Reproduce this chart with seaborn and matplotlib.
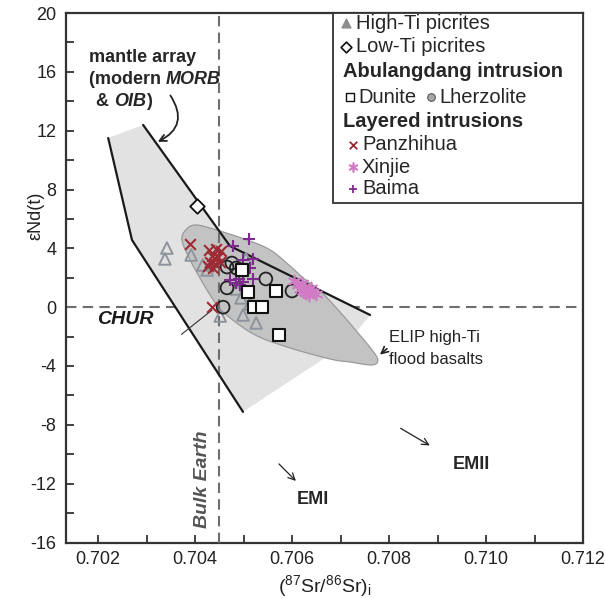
import numpy as np
import pandas as pd
import matplotlib
matplotlib.use("Agg")
import matplotlib.pyplot as plt
from matplotlib.patches import Polygon, Rectangle
import seaborn as sns

# ---------------- data ----------------
hiti_x = [0.70342, 0.70338, 0.70392, 0.70416, 0.70425, 0.70505, 0.70485, 0.70495, 0.70513, 0.70452, 0.70499, 0.70526]
hiti_y = [4.02, 3.28, 3.55, 2.87, 2.53, 3.30, 1.24, 0.63, 0.22, -0.60, -0.53, -1.07]

loti_x = [0.70404]
loti_y = [6.9]

dunite_x = [0.70497, 0.70509, 0.70567, 0.70522, 0.70538, 0.70573]
dunite_y = [2.53, 1.03, 1.10, 0.01, 0.00, -1.89]

lherz_x = [0.70466, 0.70476, 0.70485, 0.70466, 0.70546, 0.70600, 0.70458]
lherz_y = [2.73, 3.00, 2.66, 1.31, 1.92, 1.10, 0.00]

panz_x = [0.70390, 0.70429, 0.70443, 0.70454, 0.70435, 0.70447, 0.70431, 0.70441, 0.70452, 0.70437, 0.70427, 0.70435]
panz_y = [4.30, 3.89, 3.96, 3.82, 3.48, 3.41, 3.07, 2.94, 3.07, 2.66, 2.80, 0.01]

xinj_x = [0.70604, 0.70612, 0.70621, 0.70616, 0.70627, 0.70633, 0.70629, 0.70639, 0.70643, 0.70650, 0.70635, 0.70623]
xinj_y = [1.78, 1.51, 1.65, 1.24, 1.37, 1.17, 0.97, 1.31, 1.03, 0.90, 0.83, 1.10]

baima_x = [0.70511, 0.70478, 0.70499, 0.70520, 0.70513, 0.70472, 0.70491, 0.70499, 0.70493, 0.70485, 0.70520]
baima_y = [4.64, 4.16, 3.21, 3.28, 2.66, 1.85, 1.92, 1.71, 1.51, 1.65, 1.92]

# mantle array field (data coords)
mantle_x = [0.70221, 0.70293, 0.70472, 0.70761, 0.70715, 0.70499, 0.70270]
mantle_y = [11.5, 12.39, 4.16, -0.53, -2.43, -7.12, 4.57]
mantle_left_x = [0.70221, 0.70270, 0.70499]
mantle_left_y = [11.5, 4.57, -7.12]
mantle_right_x = [0.70293, 0.70472, 0.70761]
mantle_right_y = [12.39, 4.16, -0.53]

# ELIP high-Ti flood basalt field outline
elip_x = [0.70373, 0.70381, 0.70400, 0.70437, 0.70507, 0.70555, 0.70596, 0.70623, 0.70658,
          0.70699, 0.70736, 0.70765, 0.70777, 0.70765, 0.70720, 0.70678, 0.70590, 0.70520,
          0.70458, 0.70435, 0.70410, 0.70388]
elip_y = [4.57, 5.25, 5.59, 5.32, 4.57, 3.89, 2.80, 1.99, 1.10,
          -0.33, -1.75, -2.91, -3.59, -3.93, -3.73, -3.52, -2.71, -1.82,
          -0.33, 0.63, 1.99, 3.34]

xticks = [0.702, 0.704, 0.706, 0.708, 0.710, 0.712]
yticks = [-16, -12, -8, -4, 0, 4, 8, 12, 16, 20]

# ---------------- style ----------------
sns.set_theme(style="ticks")
plt.rcParams['font.family'] = ['Liberation Sans', 'DejaVu Sans']
plt.rcParams['mathtext.fontset'] = 'custom'
plt.rcParams['mathtext.rm'] = 'Liberation Sans'
plt.rcParams['mathtext.it'] = 'Liberation Sans:italic'

fig = plt.figure(figsize=(6.05, 5.98), dpi=100)
ax = fig.add_axes([66/605, 1-542.5/598, 517/605, 529.5/598])
ax.set_xlim(0.70134, 0.712)
ax.set_ylim(-16, 20)

GRID = '#6e6e6e'
ax.axhline(0, color=GRID, lw=1.5, ls=(0, (5, 3)), zorder=1)

def smooth_closed(xs, ys, n=16):
    pts = np.column_stack([xs, ys])
    N = len(pts)
    out = []
    t = np.linspace(0, 1, n, endpoint=False)[:, None]
    for i in range(N):
        p0, p1, p2, p3 = pts[(i-1) % N], pts[i], pts[(i+1) % N], pts[(i+2) % N]
        out.append(0.5*((2*p1) + (-p0+p2)*t + (2*p0-5*p1+4*p2-p3)*t**2 + (-p0+3*p1-3*p2+p3)*t**3))
    return np.vstack(out)

ax.add_patch(Polygon(np.column_stack([mantle_x, mantle_y]), closed=True,
                     facecolor='#e2e2e2', edgecolor='none', zorder=2))
ax.add_patch(Polygon(smooth_closed(elip_x, elip_y), closed=True,
                     facecolor='#c3c3c3', edgecolor='#9a9a9a', lw=0.9, zorder=3))
ax.axvline(0.7045, color=GRID, lw=1.5, ls=(0, (5, 3)), zorder=4)
ax.plot(mantle_left_x, mantle_left_y, color='#1a1a1a', lw=1.6, zorder=4)
ax.plot(mantle_right_x, mantle_right_y, color='#1a1a1a', lw=1.6, zorder=4)

# leader line near CHUR
ax.plot([0.70372, 0.70435], [-1.85, -0.2], color='#333333', lw=0.8, zorder=4)

# ---------------- points ----------------
TRI = '#8d949c'
sns.scatterplot(x=hiti_x, y=hiti_y, marker='^', s=70, facecolor='none', edgecolor=TRI,
                linewidth=1.4, ax=ax, zorder=5, legend=False)
sns.scatterplot(x=loti_x, y=loti_y, marker='D', s=55, facecolor='white', edgecolor='#111111',
                linewidth=1.3, ax=ax, zorder=6, legend=False)
sns.scatterplot(x=lherz_x, y=lherz_y, marker='o', s=85, facecolor='none', edgecolor='#222222',
                linewidth=1.3, ax=ax, zorder=6, legend=False)
sns.scatterplot(x=panz_x, y=panz_y, marker='x', s=60, color='#9e2a35',
                linewidth=1.5, ax=ax, zorder=6, legend=False)
sns.scatterplot(x=baima_x, y=baima_y, marker='+', s=80, color='#7d2b8c',
                linewidth=1.5, ax=ax, zorder=6, legend=False)
sns.scatterplot(x=xinj_x, y=xinj_y, marker=(6, 2, 0), s=75, color='#d07bc3',
                linewidth=1.2, ax=ax, zorder=6, legend=False)
sns.scatterplot(x=dunite_x, y=dunite_y, marker='s', s=75, facecolor='white', edgecolor='#111111',
                linewidth=1.5, ax=ax, zorder=7, legend=False)

# ---------------- axes ----------------
ax.set_xticks(xticks)
ax.set_xticklabels([f"{v:.3f}" for v in xticks])
ax.set_xticks(np.arange(0.703, 0.7115, 0.002), minor=True)
ax.set_yticks(yticks)
ax.set_yticklabels([str(v) for v in yticks])
ax.set_yticks(np.arange(-14, 20, 4), minor=True)
ax.tick_params(which='both', direction='in', length=6, width=1.3, color='#333333',
               labelsize=13, labelcolor='#222222')
ax.tick_params(axis='y', pad=7)
ax.tick_params(axis='x', pad=6)
for sp in ax.spines.values():
    sp.set_linewidth(1.6)
    sp.set_color('#333333')

ax.set_xlabel(r'($^{87}$Sr/$^{86}$Sr)$_{\rm i}$', fontsize=14, color='#222222', labelpad=4)
ax.set_ylabel('εNd(t)', fontsize=13, color='#222222')
ax.yaxis.set_label_coords(-0.041, 0.617)

# ---------------- annotations ----------------
AFS = 13
t1 = ax.text(0.70181, 17.0, 'mantle array', fontsize=AFS, fontweight='bold', va='center', ha='left', zorder=8)
t2 = ax.text(0.70181, 15.5, '(modern ', fontsize=AFS, fontweight='bold', va='center', ha='left', zorder=8)
ax.annotate('MORB', xy=(1, 0), xycoords=t2, va='bottom', ha='left', fontsize=AFS,
            fontweight='bold', fontstyle='italic', zorder=8)
t3 = ax.text(0.70196, 14.0, '& ', fontsize=AFS, fontweight='bold', va='center', ha='left', zorder=8)
t4 = ax.annotate('OIB', xy=(1, 0), xycoords=t3, va='bottom', ha='left', fontsize=AFS,
                 fontweight='bold', fontstyle='italic', zorder=8)
ax.annotate(')', xy=(1, 0), xycoords=t4, va='bottom', ha='left', fontsize=AFS,
            fontweight='bold', zorder=8)
ax.annotate('', xy=(0.70318, 11.16), xytext=(0.70346, 14.55),
            arrowprops=dict(arrowstyle='->', color='#222222', lw=1.3,
                            connectionstyle='arc3,rad=-0.6'), zorder=8)

ax.text(0.70198, -0.87, 'CHUR', fontsize=14, fontweight='bold', fontstyle='italic',
        va='center', ha='left', color='#1a1a1a', zorder=8)
ax.text(0.70416, -11.7, 'Bulk Earth', fontsize=14, fontweight='bold', fontstyle='italic',
        rotation=90, va='center', ha='center', color='#555555', zorder=8)
ax.text(0.70800, -2.09, 'ELIP high-Ti', fontsize=12, va='center', ha='left', color='#222222')
ax.text(0.70800, -3.59, 'flood basalts', fontsize=12, va='center', ha='left', color='#222222')
ax.annotate('', xy=(0.70777, -3.35), xytext=(0.70800, -2.7),
            arrowprops=dict(arrowstyle='->', color='#222222', lw=1.2))

ax.annotate('', xy=(0.70612, -11.95), xytext=(0.70569, -10.52),
            arrowprops=dict(arrowstyle='->', color='#222222', lw=0.9))
ax.text(0.70643, -13.1, 'EMI', fontsize=13, fontweight='bold', va='center', ha='center')
ax.annotate('', xy=(0.70889, -9.5), xytext=(0.70819, -8.14),
            arrowprops=dict(arrowstyle='->', color='#222222', lw=0.9))
ax.text(0.70969, -10.73, 'EMII', fontsize=13, fontweight='bold', va='center', ha='center')

# ---------------- legend (custom layout) ----------------
T = ax.transAxes
ax.add_patch(Rectangle((0.5164, 0.641), 0.4836, 0.359, transform=T, facecolor='white',
                       edgecolor='#333333', lw=1.3, zorder=9))
LFS = 14.5
rows = [0.981, 0.936, 0.889, 0.841, 0.796, 0.751, 0.709, 0.668]
ax.scatter([0.5416], [rows[0]], transform=T, marker='^', s=40, color='#8d8d8d', zorder=10, clip_on=False)
ax.text(0.561, rows[0], 'High-Ti picrites', transform=T, fontsize=LFS, va='center', zorder=10)
ax.scatter([0.5416], [rows[1]], transform=T, marker='D', s=30, facecolor='white', edgecolor='#111111', lw=1.2, zorder=10)
ax.text(0.561, rows[1], 'Low-Ti picrites', transform=T, fontsize=LFS, va='center', zorder=10)
ax.text(0.536, rows[2], 'Abulangdang intrusion', transform=T, fontsize=LFS, fontweight='bold', va='center', zorder=10)
ax.scatter([0.549], [rows[3]], transform=T, marker='s', s=28, facecolor='white', edgecolor='#111111', lw=1.0, zorder=10)
ax.text(0.565, rows[3], 'Dunite', transform=T, fontsize=LFS, va='center', zorder=10)
ax.scatter([0.706], [rows[3]], transform=T, marker='o', s=30, facecolor='#a8a8a8', edgecolor='#555555', lw=0.8, zorder=10)
ax.text(0.723, rows[3], 'Lherzolite', transform=T, fontsize=LFS, va='center', zorder=10)
ax.text(0.536, rows[4], 'Layered intrusions', transform=T, fontsize=LFS, fontweight='bold', va='center', zorder=10)
ax.scatter([0.555], [rows[5]], transform=T, marker='x', s=30, color='#9e2a35', lw=1.3, zorder=10)
ax.text(0.5725, rows[5], 'Panzhihua', transform=T, fontsize=LFS, va='center', zorder=10)
ax.scatter([0.555], [rows[6]], transform=T, marker=(6, 2, 0), s=40, color='#d07bc3', lw=1.2, zorder=10)
ax.text(0.5725, rows[6], 'Xinjie', transform=T, fontsize=LFS, va='center', zorder=10)
ax.scatter([0.555], [rows[7]], transform=T, marker='+', s=40, color='#7d2b8c', lw=1.3, zorder=10)
ax.text(0.5725, rows[7], 'Baima', transform=T, fontsize=LFS, va='center', zorder=10)

fig.savefig('out.png', dpi=100)
